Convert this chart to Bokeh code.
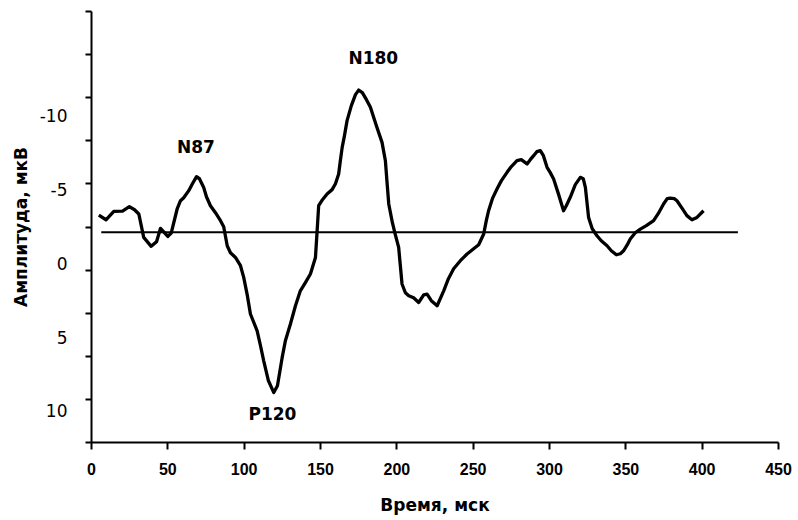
import numpy as np
from bokeh.plotting import figure
from bokeh.models import Range1d, FixedTicker, ColumnDataSource
from bokeh.core.properties import value
from bokeh.embed import file_html
from bokeh.resources import INLINE

# ---- data ----
time_ms = [4.8, 9.5, 14.6, 20.3, 24.8, 28.2, 31.0, 34.2, 39.1, 42.6, 45.2, 50.0, 52.2,
           56.1, 58.3, 60.4, 63.7, 66.1, 68.8, 70.7, 73.5, 75.3, 77.9, 81.2, 84.5, 86.6,
           88.9, 91.0, 94.3, 97.6, 99.7, 102.1, 104.1, 108.5, 110.7, 112.8, 115.9, 119.4,
           121.8, 124.9, 127.0, 130.3, 133.6, 136.8, 140.1, 143.4, 146.7, 147.8, 148.8,
           151.3, 154.3, 157.6, 159.8, 161.9, 163.0, 164.2, 165.7, 167.4, 170.2, 172.9,
           175.0, 177.4, 180.1, 182.7, 186.6, 190.3, 192.5, 193.5, 194.7, 197.1, 199.0,
           201.2, 203.4, 205.6, 207.8, 211.0, 214.3, 217.6, 219.8, 222.6, 226.4, 230.7,
           233.8, 237.2, 241.6, 246.0, 249.5, 253.6, 256.9, 258.6, 260.1, 262.6, 265.6,
           268.5, 272.2, 275.0, 278.7, 281.5, 285.3, 287.4, 289.6, 291.7, 294.0, 296.0,
           298.4, 300.5, 302.7, 305.8, 309.2, 311.0, 313.6, 316.9, 320.2, 322.1, 323.5,
           325.6, 328.0, 331.1, 333.9, 337.7, 340.5, 343.8, 346.4, 348.5, 351.0, 352.9,
           356.2, 359.5, 363.4, 368.2, 371.2, 374.7, 377.1, 379.1, 381.7, 383.5, 387.0,
           390.0, 393.3, 396.6, 400.9]
amplitude_uv = [-3.25, -2.94, -3.51, -3.53, -3.83, -3.62, -3.33, -1.75, -1.14, -1.45, -2.36,
                -1.81, -2.04, -3.67, -4.23, -4.43, -4.91, -5.38, -5.86, -5.72, -5.13, -4.50,
                -3.89, -3.42, -2.88, -2.47, -1.18, -0.71, -0.39, 0.17, 0.96, 2.20, 3.44,
                4.58, 5.59, 6.61, 7.96, 8.76, 8.30, 6.38, 5.25, 4.12, 2.88, 1.87, 1.32, 0.73,
                -0.39, -2.20, -3.89, -4.30, -4.69, -4.98, -5.38, -6.04, -6.94, -7.84, -8.64,
                -9.65, -10.67, -11.41, -11.72, -11.55, -11.07, -10.55, -9.31, -8.18, -6.94,
                -5.59, -4.01, -2.74, -1.93, -1.07, 1.41, 2.00, 2.20, 2.34, 2.66, 2.14, 2.09,
                2.54, 2.88, 1.87, 1.05, 0.38, -0.17, -0.62, -0.91, -1.25, -1.98, -2.88,
                -3.55, -4.37, -5.02, -5.59, -6.15, -6.54, -6.94, -7.01, -6.72, -7.01, -7.28,
                -7.55, -7.62, -7.28, -6.49, -6.13, -5.70, -4.71, -3.55, -3.89, -4.46, -5.32,
                -5.81, -5.72, -5.13, -3.10, -2.33, -1.86, -1.52, -1.18, -0.84, -0.57, -0.64,
                -0.84, -1.25, -1.64, -2.06, -2.31, -2.54, -2.88, -3.35, -4.01, -4.37, -4.41,
                -4.37, -4.23, -3.69, -3.22, -2.94, -3.10, -3.55]

baseline_x = [6.4, 423.4]
baseline_y = [-2.1, -2.1]

peak_names = ["N87", "N180", "P120"]
peak_x = [68.4, 184.6, 118.5]
peak_y = [-7.9, -13.9, 10.2]

x_ticks = [0, 50, 100, 150, 200, 250, 300, 350, 400, 450]
y_ticks = [-10, -5, 0, 5, 10]
y_tick_labels = ["-10", "-5", "0", "5", "10"]
y_bottom, y_top = 12.14, -17.04     # reversed axis: negative values up
n_y_marks = 11                      # evenly spaced tick marks along the y axis

FONT = "DejaVu Sans"

p = figure(width=796, height=518,
           x_range=Range1d(0, 450),
           y_range=Range1d(start=y_bottom, end=y_top),
           output_backend="svg", toolbar_location=None,
           min_border_left=91, min_border_right=18,
           min_border_top=11, min_border_bottom=76)
p.outline_line_color = None
p.grid.visible = False
p.background_fill_color = "white"
p.border_fill_color = "white"

# baseline
p.line(baseline_x, baseline_y, line_color="black", line_width=2)

# waveform
src = ColumnDataSource(dict(t=time_ms, a=amplitude_uv))
p.line("t", "a", source=src, line_color="black", line_width=3.3, line_join="round")

# peak labels
p.text(x=peak_x, y=peak_y, text=peak_names, text_font=value(FONT),
       text_font_style="bold", text_font_size="17px",
       text_align="center", text_baseline="middle", text_color="black")

# x axis
xa = p.xaxis[0]
xa.ticker = FixedTicker(ticks=x_ticks)
xa.axis_line_width = 2
xa.axis_line_color = "black"
xa.major_tick_line_width = 2
xa.major_tick_line_color = "black"
xa.major_tick_out = 7
xa.major_tick_in = 0
xa.minor_tick_line_color = None
xa.major_label_standoff = 13
xa.major_label_text_font = "Liberation Sans"
xa.major_label_text_font_style = "bold"
xa.major_label_text_font_size = "16px"
xa.major_label_text_color = "black"
xa.axis_label = "Время, мск"
xa.axis_label_text_font = FONT
xa.axis_label_text_font_style = "bold"
xa.axis_label_text_font_size = "17px"
xa.axis_label_text_color = "black"
xa.axis_label_standoff = 17

# y axis
ya = p.yaxis[0]
marks = list(np.linspace(y_bottom, y_top, n_y_marks))
ya.ticker = FixedTicker(ticks=y_ticks, minor_ticks=marks)
ya.major_label_overrides = {t: s for t, s in zip(y_ticks, y_tick_labels)}
ya.axis_line_width = 2
ya.axis_line_color = "black"
ya.major_tick_line_color = None
ya.major_tick_out = 6
ya.major_tick_in = 0
ya.minor_tick_line_color = "black"
ya.minor_tick_line_width = 2
ya.minor_tick_out = 6
ya.minor_tick_in = 0
ya.major_label_standoff = 18
ya.major_label_text_font = FONT
ya.major_label_text_font_size = "17px"
ya.major_label_text_color = "black"
ya.axis_label = "Амплитуда, мкВ"
ya.axis_label_text_font = FONT
ya.axis_label_text_font_style = "bold"
ya.axis_label_text_font_size = "17px"
ya.axis_label_text_color = "black"
ya.axis_label_standoff = 6

open("out.html", "w").write(file_html(p, INLINE))
